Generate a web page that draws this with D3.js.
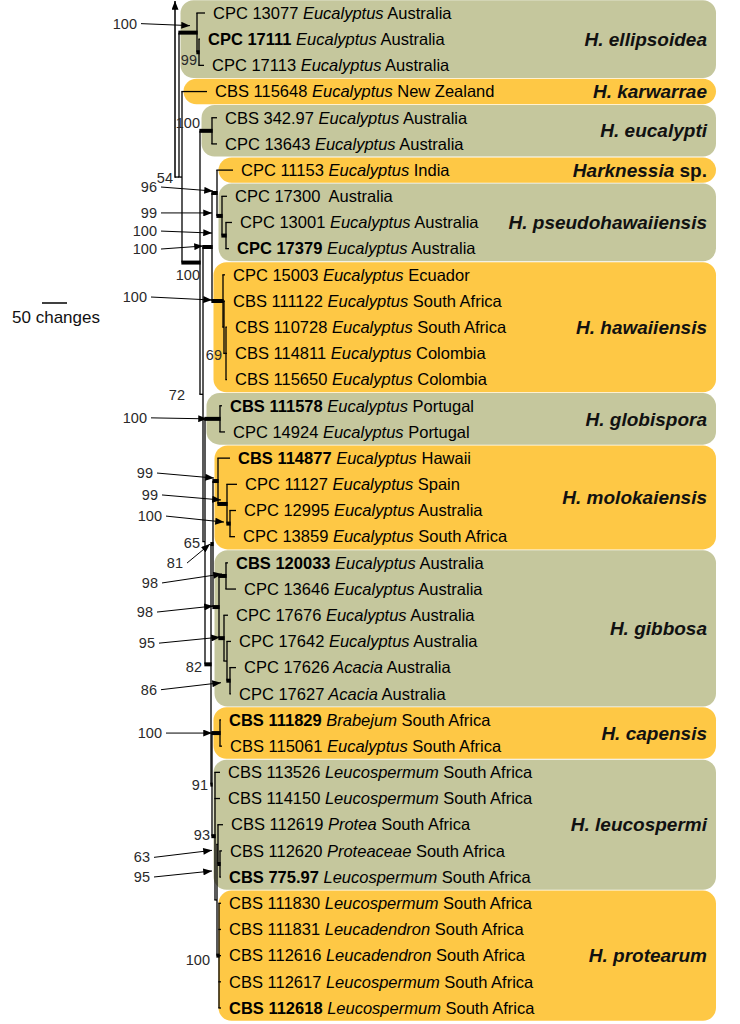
<!DOCTYPE html>
<html><head><meta charset="utf-8">
<script src="https://cdn.jsdelivr.net/npm/d3@7"></script>
<style>
body{margin:0;background:#fff}
svg{display:block}
text{font-family:"Liberation Sans",Arial,Helvetica,sans-serif}
</style>
</head><body>
<svg id="c" width="740" height="1024"></svg>
<script>
// ---------------- DATA ----------------
const strains = ["CPC 13077","CPC 17111","CPC 17113","CBS 115648","CBS 342.97","CPC 13643","CPC 11153","CPC 17300","CPC 13001","CPC 17379","CPC 15003","CBS 111122","CBS 110728","CBS 114811","CBS 115650","CBS 111578","CPC 14924","CBS 114877","CPC 11127","CPC 12995","CPC 13859","CBS 120033","CPC 13646","CPC 17676","CPC 17642","CPC 17626","CPC 17627","CBS 111829","CBS 115061","CBS 113526","CBS 114150","CBS 112619","CBS 112620","CBS 775.97","CBS 111830","CBS 111831","CBS 112616","CBS 112617","CBS 112618"];
const hosts = ["Eucalyptus","Eucalyptus","Eucalyptus","Eucalyptus","Eucalyptus","Eucalyptus","Eucalyptus","","Eucalyptus","Eucalyptus","Eucalyptus","Eucalyptus","Eucalyptus","Eucalyptus","Eucalyptus","Eucalyptus","Eucalyptus","Eucalyptus","Eucalyptus","Eucalyptus","Eucalyptus","Eucalyptus","Eucalyptus","Eucalyptus","Eucalyptus","Acacia","Acacia","Brabejum","Eucalyptus","Leucospermum","Leucospermum","Protea","Proteaceae","Leucospermum","Leucospermum","Leucadendron","Leucadendron","Leucospermum","Leucospermum"];
const countries = ["Australia","Australia","Australia","New Zealand","Australia","Australia","India","Australia","Australia","Australia","Ecuador","South Africa","South Africa","Colombia","Colombia","Portugal","Portugal","Hawaii","Spain","Australia","South Africa","Australia","Australia","Australia","Australia","Australia","Australia","South Africa","South Africa","South Africa","South Africa","South Africa","South Africa","South Africa","South Africa","South Africa","South Africa","South Africa","South Africa"];
const exTypes = ["CPC 17111","CPC 17379","CBS 111578","CBS 114877","CBS 120033","CBS 111829","CBS 775.97","CBS 112618"];

// tree edges: [node, parent, branch length (changes), bootstrap]
const edges = [
 ["S","",0,null],
 ["E","S",36,100],["CPC 13077","E",16],["E23","E",4,99],["CPC 17111","E23",2],["CPC 17113","E23",10],
 ["T","S",6,54],["CBS 115648","T",50],
 ["U","T",36,100],
 ["EU","U",24,100],["CBS 342.97","EU",10],["CPC 13643","EU",10],
 ["Y","U",6,72],
 ["X","Y",18,100],
 ["HS","X",10,96],["CPC 11153","HS",32],
 ["PH","HS",10,99],["CPC 17300","PH",10],["P910","PH",8,100],["CPC 13001","P910",12],["CPC 17379","P910",6],
 ["HW","X",22,100],["CPC 15003","HW",4],["HW2","HW",2,null],["CBS 111122","HW2",2],
 ["N69","HW2",4,69],["CBS 110728","N69",2],["CBS 114811","N69",2],["CBS 115650","N69",2],
 ["Q","Y",4,65],
 ["G","Q",30,100],["CBS 111578","G",4],["CPC 14924","G",10],
 ["N82","Q",12,82],
 ["MG","N82",4,81],
 ["M","MG",10,99],["CBS 114877","M",24],["M2","M",18,99],["CPC 11127","M2",20],
 ["M3","M2",6,100],["CPC 12995","M3",12],["CPC 13859","M3",10],
 ["GB","MG",12,98],["N98","GB",14,98],["CBS 120033","N98",4],["CPC 13646","N98",20],
 ["N95g","GB",10,95],["CPC 17676","N95g",8],["GX","N95g",6,null],["CPC 17642","GX",8],
 ["N86","GX",6,86],["CPC 17626","N86",12],["CPC 17627","N86",2],
 ["N91","N82",2,91],
 ["CP","N91",16,100],["CBS 111829","CP",2],["CBS 115061","CP",4],
 ["N93","N91",6,93],["CBS 113526","N93",10],["CBS 114150","N93",10],
 ["K","N93",4,null],
 ["N63","K",2,63],["CBS 112619","N63",10],["N95l","N63",4,95],["CBS 112620","N95l",4],["CBS 775.97","N95l",2],
 ["PR","K",4,100],["CBS 111830","PR",4],["CBS 111831","PR",4],["CBS 112616","PR",4],["CBS 112617","PR",4],["CBS 112618","PR",4]
];

const cladeNames = ["H. ellipsoidea","H. karwarrae","H. eucalypti","Harknessia sp.","H. pseudohawaiiensis","H. hawaiiensis","H. globispora","H. molokaiensis","H. gibbosa","H. capensis","H. leucospermi","H. protearum"];
const cladeFirst = ["CPC 13077","CBS 115648","CBS 342.97","CPC 11153","CPC 17300","CPC 15003","CBS 111578","CBS 114877","CBS 120033","CBS 111829","CBS 113526","CBS 111830"];
const cladeLast  = ["CPC 17113","CBS 115648","CPC 13643","CPC 11153","CPC 17379","CBS 115650","CPC 14924","CPC 13859","CPC 17627","CBS 115061","CBS 775.97","CBS 112618"];

const scaleBarValue = 50;

// ---------------- LAYOUT ----------------
const colors = ["#c5c79d", "#fec845"];
const x0 = 179, pxPerUnit = 0.5, boxRight = 716;
const svg = d3.select("#c");
const defs = svg.append("defs");
defs.append("marker").attr("id","ah").attr("viewBox","0 0 10 8").attr("refX",10).attr("refY",4)
  .attr("markerWidth",10).attr("markerHeight",7).attr("markerUnits","userSpaceOnUse").attr("orient","auto")
  .append("path").attr("d","M0,0L10,4L0,8Z").attr("fill","#000");

const root = d3.stratify().id(d=>d[0]).parentId(d=>d[1]===""?null:d[1])(edges);
root.eachBefore(n => { n.len = n.parent ? n.parent.len + n.data[2] : 0; });
const maxLen = d3.max(root.descendants(), d=>d.len);
const xS = d3.scaleLinear().domain([0, maxLen]).range([x0, x0 + maxLen*pxPerUnit]);
const yS = d3.scalePoint().domain(strains).range([13, 1008]);
const rowH = yS.step();
root.eachAfter(n => {
  if (n.children) n.y = (n.children[0].y + n.children[n.children.length-1].y)/2;
  else n.y = yS(n.id);
});
const byId = new Map(root.descendants().map(d=>[d.id,d]));
const px = n => xS(n.len);

// clade boxes
const gBox = svg.append("g");
cladeNames.forEach((name,i)=>{
  const a = byId.get(cladeFirst[i]), b = byId.get(cladeLast[i]);
  const anc = new Set(a.ancestors());
  const lca = b.ancestors().find(d=>anc.has(d));
  const left = px(lca.parent) + 1.5;
  const top = Math.max(0, yS(cladeFirst[i]) - rowH/2 + 0.4), bot = yS(cladeLast[i]) + rowH/2 - 0.4;
  gBox.append("rect").attr("x",left).attr("y",top).attr("width",boxRight-left)
    .attr("height",bot-top).attr("rx",13).attr("ry",13).attr("fill",colors[i%2]);
  const t = gBox.append("text").attr("x",707).attr("y",(top+bot)/2).attr("dy","0.35em")
    .attr("text-anchor","end").attr("font-size",19).attr("font-weight","bold").attr("fill","#111");
  if (name.startsWith("Harknessia")) {
    t.append("tspan").attr("font-style","italic").text("Harknessia");
    t.append("tspan").text(" sp.");
  } else t.append("tspan").attr("font-style","italic").text(name);
});

// tree
const gT = svg.append("g").attr("stroke","#000").attr("fill","none");
root.descendants().forEach(n=>{
  if (n.children) {
    gT.append("line").attr("x1",px(n)).attr("x2",px(n))
      .attr("y1",n.children[0].y).attr("y2",n.children[n.children.length-1].y).attr("stroke-width",1.3);
  }
  if (n.parent) {
    const thick = n.children && n.data[3] != null && n.data[3] >= 80;
    gT.append("line").attr("x1",px(n.parent)-0.65).attr("x2",px(n)+(thick?0.65:0))
      .attr("y1",n.y).attr("y2",n.y).attr("stroke-width",thick?4:1.3);
  }
});
// root / outgroup arrow
const T = byId.get("T");
gT.append("line").attr("x1",x0-4).attr("x2",x0).attr("y1",T.y).attr("y2",T.y).attr("stroke-width",1.3);
gT.append("line").attr("x1",x0-4).attr("x2",x0-4).attr("y1",T.y+0.6).attr("y2",1)
  .attr("stroke-width",1.5).attr("marker-end","url(#ah)");

// leaf labels
const gL = svg.append("g").attr("font-size",16.5).attr("fill","#000");
strains.forEach((s,i)=>{
  const n = byId.get(s);
  const t = gL.append("text").attr("x",px(n)+8).attr("y",n.y).attr("dy","0.35em");
  t.append("tspan").attr("font-weight",exTypes.includes(s)?"bold":"normal").text(s);
  if (hosts[i]) t.append("tspan").attr("font-style","italic").text(" " + hosts[i]);
  else t.append("tspan").text("\u00a0");
  t.append("tspan").text(" " + countries[i]);
});

// support values next to nodes: [node, dx from node, dy]
const inlineLabels = [["E23",-2,8],["EU",-12,-8],["T",-9,1],["U",0,12],["N69",-4,2],["Y",-18,1],
  ["Q",-5,1],["N82",-9,3],["N91",-4,0],["N93",-5,-1],["PR",-9,4]];
// support values with arrows: [node, label right x, label dy, arrow head x, head dy]
const arrowLabels = [["E",137,-9,190,-7],["HS",157,-6,213,-2],["PH",157,-3,212,-3],["P910",157,-4.5,212,-2.5],
  ["X",157,2,203,-1],["HW",147,-4,212,-1],["G",147,-1,207,0],["M",153,-8,214,-3],["M2",158,-9,221,-4],
  ["M3",162,-7.5,224,-1.5],["MG",183,19,210,0],["N98",158,7,222,-2],["GB",153,5,213,-1],
  ["N95g",155,5,220,-1],["N86",157,9,221,2],["CP",162,0,212,0],["N63",150,13,212,6],["N95l",150,13,212,7]];

const gS = svg.append("g").attr("font-size",14.5).attr("fill","#2a2a2a");
inlineLabels.forEach(([id,dx,dy])=>{
  const n = byId.get(id);
  gS.append("text").attr("x",px(n)+dx).attr("y",n.y+dy).attr("dy","0.35em").attr("text-anchor","end").text(n.data[3]);
});
arrowLabels.forEach(([id,lx,ldy,hx,hdy])=>{
  const n = byId.get(id);
  gS.append("text").attr("x",lx).attr("y",n.y+ldy).attr("dy","0.35em").attr("text-anchor","end").text(n.data[3]);
  svg.append("line").attr("x1",lx+4).attr("y1",n.y+ldy).attr("x2",hx).attr("y2",n.y+hdy)
    .attr("stroke","#000").attr("stroke-width",1).attr("marker-end","url(#ah)");
});

// scale bar
const barLen = scaleBarValue*pxPerUnit;
svg.append("line").attr("x1",42).attr("x2",42+barLen).attr("y1",303).attr("y2",303).attr("stroke","#000").attr("stroke-width",1.5);
svg.append("text").attr("x",56).attr("y",317).attr("dy","0.35em").attr("text-anchor","middle")
  .attr("font-size",17).attr("fill","#111").text(scaleBarValue + " changes");
</script>
</body></html>
